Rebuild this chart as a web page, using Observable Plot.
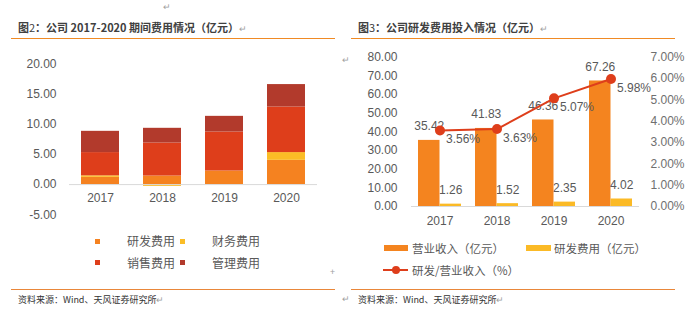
<!DOCTYPE html>
<html>
<head>
<meta charset="utf-8">
<script src="https://cdn.jsdelivr.net/npm/d3@7"></script>
<script src="https://cdn.jsdelivr.net/npm/@observablehq/plot@0.6"></script>
<style>
  html, body { margin: 0; padding: 0; background: #fff; }
  #page { position: relative; width: 700px; height: 323px; overflow: hidden; background: #fff; font-family: "Noto Sans CJK SC", sans-serif; }
  .abs { position: absolute; white-space: nowrap; }
  .title { font-size: 11px; font-weight: bold; color: #404040; line-height: 14px; }
  .title .n { font-weight: normal; }
  .rule { position: absolute; height: 1.3px; background: #F08A24; }
  .src { font-size: 9px; color: #333; line-height: 12px; }
  .ret { font-size: 9px; color: #a0a0a0; line-height: 12px; }
  .leg { font-size: 12px; color: #595959; line-height: 16px; }
  .leg2 { font-size: 11.5px; color: #595959; line-height: 16px; }
  .sq { position: absolute; width: 5px; height: 5px; }
</style>
</head>
<body>
<div id="page">
  <div class="abs title" style="left:18px; top:20px;">图<span class="n">2</span>：公司 2017-2020 期间费用情况（亿元）<span class="ret" style="font-weight:normal">↵</span></div>
  <div class="abs title" style="left:358px; top:20px;">图<span class="n">3</span>：公司研发费用投入情况（亿元）<span class="ret" style="font-weight:normal">↵</span></div>
  <div class="rule" style="left:11px; width:324px; top:37.7px;"></div>
  <div class="rule" style="left:351px; width:324px; top:37.7px;"></div>
  <div class="abs ret" style="left:163px; top:1px;">↵</div>
  <div class="abs ret" style="left:342px; top:54px;">↵</div>
  <div class="abs ret" style="left:330px; top:266px;">+</div>

  <div id="left" class="abs" style="left:0px; top:50px; width:340px; height:180px;"></div>
  <div id="right" class="abs" style="left:340px; top:50px; width:345px; height:180px;"></div>

  <div class="rule" style="left:11px; width:324px; top:288.5px; background:#E9873A;"></div>
  <div class="rule" style="left:351px; width:324px; top:288.5px; background:#E9873A;"></div>
  <div class="abs src" style="left:18px; top:294px;">资料来源：Wind、天风证券研究所<span class="ret">↵</span></div>
  <div class="abs src" style="left:358px; top:294px;">资料来源：Wind、天风证券研究所<span class="ret">↵</span></div>
  <div class="abs ret" style="left:342px; top:293px;">↵</div>
</div>
<script>
// ---------- Data ----------
const years = ["2017", "2018", "2019", "2020"];

// Figure 2: period expenses (亿元)
const expSeries = ["研发费用", "财务费用", "销售费用", "管理费用"];
const expColors = ["#F58220", "#FBBD26", "#DE3E1B", "#B23A2C"];
const rdExpense = [1.20, 1.42, 2.25, 4.02];
const finExpense = [0.25, -0.30, 0.00, 1.28];
const salesExpense = [3.85, 5.47, 6.46, 7.55];
const mgmtExpense = [3.52, 2.43, 2.59, 3.71];
const leftTicks = [-5, 0, 5, 10, 15, 20];

// Figure 3: R&D input
const revenue = [35.42, 41.83, 46.36, 67.26];
const rdSpend = [1.26, 1.52, 2.35, 4.02];
const rdRatio = [3.56, 3.63, 5.07, 5.98];
const revTicks = [0, 10, 20, 30, 40, 50, 60, 70, 80];
const pctTicks = [0, 1, 2, 3, 4, 5, 6, 7];
const revSeries = ["营业收入（亿元）", "研发费用（亿元）", "研发/营业收入（%）"];
const revColors = ["#F4841F", "#FBBA26", "#DE3E1B"];

const numFont = "'Liberation Sans', Arial, 'Noto Sans CJK SC', sans-serif";

// ---------- Left chart ----------
const expValues = [rdExpense, finExpense, salesExpense, mgmtExpense];
const expTable = [];
years.forEach((y, i) => {
  expSeries.forEach((s, j) => expTable.push({year: y, series: s, value: expValues[j][i]}));
});

const left = Plot.plot({
  width: 340, height: 180,
  marginLeft: 69, marginRight: 23, marginTop: 13.3, marginBottom: 15.7,
  style: {fontFamily: numFont, fontSize: "12px", color: "#595959", background: "transparent"},
  x: {domain: years, paddingInner: 0.39, paddingOuter: 0.195, axis: null},
  y: {domain: [-5, 20], label: null},
  color: {domain: expSeries, range: expColors},
  marks: [
    Plot.barY(expTable, Plot.stackY({x: "year", y: "value", z: "series", fill: "series"})),
    Plot.ruleY([0], {stroke: "#d9d9d9", strokeWidth: 1}),
    Plot.axisY(leftTicks, {label: null, tickSize: 0, tickPadding: 13, tickFormat: d => d.toFixed(2), fill: "#595959", fontSize: 12}),
    Plot.text(years, {x: d => d, y: () => 0, dy: 14, fill: "#595959", fontSize: 12})
  ]
});
document.getElementById("left").appendChild(left);

// ---------- Right chart ----------
const pctScale = 80 / 7;
const revTable = years.map((y, i) => ({year: y, revenue: revenue[i], rd: rdSpend[i], ratio: rdRatio[i]}));

const right = Plot.plot({
  width: 345, height: 180,
  marginLeft: 71, marginRight: 46, marginTop: 6.7, marginBottom: 24,
  style: {fontFamily: numFont, fontSize: "12px", color: "#595959", background: "transparent"},
  x: {domain: years, paddingInner: 0.246, paddingOuter: 0.123, axis: null},
  y: {domain: [0, 80], label: null},
  marks: [
    Plot.barY(revTable, {x: "year", y: "revenue", fill: revColors[0], insetRight: 21.5}),
    Plot.barY(revTable, {x: "year", y: "rd", fill: revColors[1], insetLeft: 21.5}),
    Plot.ruleY([0], {stroke: "#d9d9d9", strokeWidth: 1}),
    Plot.text(revTable, {x: "year", y: "revenue", text: d => d.revenue.toFixed(2), dx: -10.75, dy: -14, fill: "#595959", fontSize: 12}),
    Plot.text(revTable, {x: "year", y: "rd", text: d => d.rd.toFixed(2), dx: 10.75, dy: -14, fill: "#595959", fontSize: 12}),
    Plot.line(revTable, {x: "year", y: d => d.ratio * pctScale, stroke: revColors[2], strokeWidth: 2}),
    Plot.dot(revTable, {x: "year", y: d => d.ratio * pctScale, r: 5, fill: revColors[2]}),
    Plot.text(revTable, {x: "year", y: d => d.ratio * pctScale, text: d => d.ratio.toFixed(2) + "%", textAnchor: "start", dx: 6, dy: 9, fill: "#595959", fontSize: 12}),
    Plot.axisY(revTicks, {anchor: "left", label: null, tickSize: 0, tickPadding: 14, tickFormat: d => d.toFixed(2), fill: "#595959", fontSize: 12}),
    Plot.axisY(pctTicks.map(v => v * pctScale), {anchor: "right", label: null, tickSize: 0, tickPadding: 11, tickFormat: v => (v / pctScale).toFixed(2) + "%", fill: "#6f6f6f", fontSize: 12}),
    Plot.text(years, {x: d => d, y: () => 0, dy: 15, fill: "#595959", fontSize: 12})
  ]
});
document.getElementById("right").appendChild(right);

// ---------- Legends ----------
const page = document.getElementById("page");
function add(html) { const t = document.createElement("div"); t.innerHTML = html; page.appendChild(t.firstElementChild); }
const legPos = [[95, 127, 238.5], [180, 212, 238.5], [95, 127, 260], [180, 212, 260]];
expSeries.forEach((s, i) => {
  const [sx, tx, sy] = legPos[i];
  add(`<div class="sq" style="left:${sx}px; top:${sy}px; background:${expColors[i]}"></div>`);
  add(`<div class="abs leg" style="left:${tx}px; top:${sy - 5.5}px;">${s}</div>`);
});
add(`<div class="abs" style="left:384px; top:245.3px; width:24px; height:5.5px; background:${revColors[0]}"></div>`);
add(`<div class="abs leg2" style="left:412px; top:240px;">${revSeries[0]}</div>`);
add(`<div class="abs" style="left:526px; top:245.3px; width:25px; height:5.5px; background:${revColors[1]}"></div>`);
add(`<div class="abs leg2" style="left:554px; top:240px;">${revSeries[1]}</div>`);
add(`<div class="abs" style="left:383px; top:268.5px; width:25px; height:2px; background:${revColors[2]}"></div>`);
add(`<div class="abs" style="left:392px; top:265.5px; width:8px; height:8px; border-radius:50%; background:${revColors[2]}"></div>`);
add(`<div class="abs leg2" style="left:412px; top:261.5px;">${revSeries[2]}</div>`);
</script>
</body>
</html>
